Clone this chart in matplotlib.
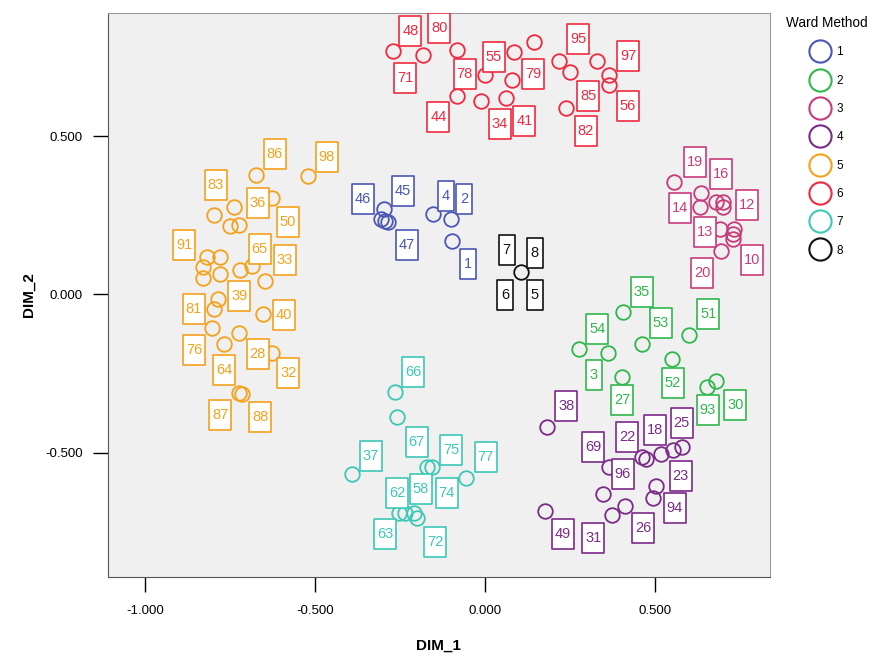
import matplotlib
matplotlib.use("Agg")
import matplotlib.pyplot as plt
from matplotlib.lines import Line2D
from matplotlib.path import Path

# cluster colours (Ward Method 1..8)
colors = ['#4a57b5', '#2eb84c', '#c93a7a', '#7b2a88', '#f5a11c', '#f0293f', '#3dc8b5', '#111111']
cluster_names = ['1', '2', '3', '4', '5', '6', '7', '8']

# case points (DIM_1, DIM_2) per cluster
pts_x = [
    [-0.296, -0.307, -0.294, -0.284, -0.154, -0.101, -0.096],
    [0.405, 0.276, 0.363, 0.463, 0.601, 0.551, 0.402, 0.652, 0.679],
    [0.557, 0.637, 0.634, 0.681, 0.701, 0.701, 0.691, 0.732, 0.730, 0.729, 0.696],
    [0.183, 0.366, 0.461, 0.473, 0.518, 0.552, 0.579, 0.503, 0.495, 0.346, 0.412, 0.373, 0.176],
    [-0.674, -0.520, -0.627, -0.738, -0.797, -0.750, -0.724, -0.819, -0.779, -0.830, -0.779, -0.829,
     -0.721, -0.684, -0.647, -0.786, -0.796, -0.654, -0.804, -0.724, -0.768, -0.627, -0.724, -0.714],
    [-0.271, -0.181, -0.081, 0.085, 0.144, 0.000, 0.081, -0.081, -0.012, 0.062, 0.219, 0.250,
     0.330, 0.366, 0.366, 0.240],
    [-0.265, -0.258, -0.390, -0.170, -0.157, -0.056, -0.252, -0.235, -0.209, -0.201],
    [0.105],
]
pts_y = [
    [0.270, 0.239, 0.233, 0.228, 0.255, 0.237, 0.167],
    [-0.056, -0.174, -0.184, -0.158, -0.129, -0.203, -0.261, -0.292, -0.274],
    [0.354, 0.321, 0.275, 0.291, 0.291, 0.275, 0.207, 0.207, 0.191, 0.176, 0.137],
    [-0.419, -0.547, -0.513, -0.521, -0.503, -0.492, -0.482, -0.606, -0.644, -0.632, -0.668, -0.697, -0.685],
    [0.378, 0.375, 0.304, 0.275, 0.252, 0.215, 0.220, 0.118, 0.118, 0.086, 0.065, 0.050,
     0.076, 0.089, 0.042, -0.016, -0.047, -0.063, -0.106, -0.121, -0.158, -0.184, -0.313, -0.316],
    [0.768, 0.756, 0.772, 0.764, 0.796, 0.694, 0.678, 0.628, 0.610, 0.621, 0.736, 0.701,
     0.736, 0.693, 0.662, 0.589],
    [-0.308, -0.389, -0.569, -0.547, -0.547, -0.581, -0.692, -0.692, -0.690, -0.708],
    [0.070],
]

# case labels and where they sit
lab_text = [
    ['46', '45', '4', '2', '47', '1'],
    ['35', '54', '53', '51', '3', '27', '52', '93', '30'],
    ['19', '16', '14', '12', '13', '10', '20'],
    ['38', '69', '22', '18', '25', '96', '23', '94', '26', '49', '31'],
    ['86', '98', '83', '36', '50', '91', '65', '33', '39', '81', '40', '76', '28', '64', '32', '87', '88'],
    ['48', '80', '71', '55', '78', '79', '95', '97', '85', '56', '44', '34', '41', '82'],
    ['66', '37', '67', '75', '77', '62', '58', '74', '63', '72'],
    ['7', '8', '6', '5'],
]
lab_x = [
    [-0.360, -0.242, -0.115, -0.061, -0.230, -0.049],
    [0.461, 0.331, 0.518, 0.657, 0.321, 0.404, 0.552, 0.655, 0.737],
    [0.618, 0.696, 0.574, 0.770, 0.649, 0.787, 0.640],
    [0.240, 0.319, 0.419, 0.500, 0.579, 0.405, 0.576, 0.559, 0.466, 0.230, 0.319],
    [-0.618, -0.466, -0.792, -0.669, -0.580, -0.884, -0.663, -0.588, -0.723, -0.857, -0.592,
     -0.855, -0.669, -0.767, -0.579, -0.779, -0.661],
    [-0.219, -0.134, -0.235, 0.026, -0.059, 0.142, 0.274, 0.421, 0.304, 0.421, -0.137, 0.044, 0.116, 0.297],
    [-0.211, -0.335, -0.201, -0.100, 0.002, -0.258, -0.188, -0.113, -0.294, -0.147],
    [0.064, 0.147, 0.060, 0.147],
]
lab_y = [
    [0.302, 0.325, 0.312, 0.302, 0.155, 0.097],
    [0.007, -0.108, -0.092, -0.063, -0.256, -0.334, -0.280, -0.366, -0.350],
    [0.417, 0.381, 0.272, 0.283, 0.197, 0.107, 0.067],
    [-0.353, -0.482, -0.452, -0.429, -0.408, -0.568, -0.574, -0.676, -0.739, -0.757, -0.771],
    [0.444, 0.435, 0.344, 0.288, 0.230, 0.155, 0.144, 0.109, -0.005, -0.047, -0.066,
     -0.177, -0.190, -0.238, -0.250, -0.382, -0.387],
    [0.833, 0.841, 0.685, 0.749, 0.696, 0.696, 0.807, 0.754, 0.628, 0.596, 0.559, 0.538, 0.549, 0.517],
    [-0.245, -0.511, -0.466, -0.492, -0.515, -0.627, -0.616, -0.627, -0.757, -0.781],
    [0.139, 0.132, -0.003, -0.003],
]

x_ticks = [-1.0, -0.5, 0.0, 0.5]
y_ticks = [-0.5, 0.0, 0.5]


def box(half_w):
    # tall rectangle marker, height = markersize
    return Path([(-half_w, -0.5), (half_w, -0.5), (half_w, 0.5), (-half_w, 0.5), (-half_w, -0.5)],
                [Path.MOVETO, Path.LINETO, Path.LINETO, Path.LINETO, Path.CLOSEPOLY])


box_wide = box(0.38)
box_narrow = box(0.26)

plt.rcParams['font.family'] = ['Liberation Sans', 'DejaVu Sans']

fig = plt.figure(figsize=(8.8, 6.57), dpi=100)
ax = fig.add_axes([0.1227, 0.1218, 0.752, 0.859])
ax.set_facecolor('#f0f0f0')

for i in range(len(colors)):
    ax.plot(pts_x[i], pts_y[i], 'o', ms=10.5, mfc='none', mec=colors[i], mew=1.3, zorder=2)
    for t, lx, ly in zip(lab_text[i], lab_x[i], lab_y[i]):
        mk = box_wide if len(t) > 1 else box_narrow
        ax.plot(lx, ly, marker=mk, ms=21, mfc='white', mec=colors[i], mew=1.2, zorder=3)
        ax.text(lx, ly, t, ha='center', va='center', fontsize=10.5, color=colors[i], zorder=4)

ax.set_xlim(-1.109, 0.838)
ax.set_ylim(-0.893, 0.890)
ax.set_xticks(x_ticks)
ax.set_yticks(y_ticks)
ax.set_xticklabels(['%.3f' % v for v in x_ticks])
ax.set_yticklabels(['%.3f' % v for v in y_ticks])
ax.tick_params(axis='x', length=11, width=1, labelsize=9.5, pad=9)
ax.tick_params(axis='y', length=11, width=1, labelsize=9.5, pad=7)
for s in ['top', 'right']:
    ax.spines[s].set_color('#9a9a9a')
for s in ['left', 'bottom']:
    ax.spines[s].set_color('#555555')

ax.set_xlabel('DIM_1', fontsize=11, fontweight='bold', labelpad=16)
ax.set_ylabel('DIM_2', fontsize=11, fontweight='bold', labelpad=7)

handles = [Line2D([], [], ls='none', marker='o', ms=16, mfc='none', mec=c, mew=1.5) for c in colors]
leg = ax.legend(handles, cluster_names, title='Ward Method', loc='upper left',
                bbox_to_anchor=(1.018, 1.002), frameon=False, fontsize=8.5, title_fontsize=9.8,
                labelspacing=1.38, handlelength=1.5, handletextpad=0.6, borderaxespad=0)

fig.savefig('out.png', dpi=100)
